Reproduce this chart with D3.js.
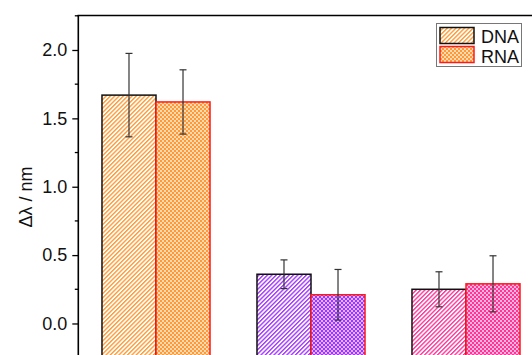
<!DOCTYPE html>
<html>
<head>
<meta charset="utf-8">
<script src="https://cdn.jsdelivr.net/npm/d3@7"></script>
<style>
  html, body { margin: 0; padding: 0; background: #fff; }
  svg { display: block; font-family: Arial, "Liberation Sans", sans-serif; }
</style>
</head>
<body>
<svg id="chart" width="532" height="355"></svg>
<script>
// Wavelength shift per sample, DNA vs RNA
const categories = ["S1", "S2", "S3"];
const seriesNames = ["DNA", "RNA"];
const dnaValues = [1.67, 0.36, 0.25];
const dnaErrors = [0.305, 0.105, 0.128];
const rnaValues = [1.62, 0.21, 0.29];
const rnaErrors = [0.235, 0.185, 0.205];
const groupColors = ["#ff9933", "#a033ff", "#ff3399"];
const yTicks = [0.0, 0.5, 1.0, 1.5, 2.0];
const yMinorTicks = [-0.25, 0.25, 0.75, 1.25, 1.75, 2.25];

const svg = d3.select("#chart");

const y = d3.scaleLinear().domain([-0.3, 2.25]).range([364.5, 15.8]);
const x = d3.scaleBand().domain(categories).range([78.5, 543.5])
  .paddingInner(0.303).paddingOuter(0.1515);
const xs = d3.scaleBand().domain(seriesNames).range([0, x.bandwidth()]);

// hatch (diagonal) and cross-hatch (dotted grid) patterns per colour
const defs = svg.append("defs");
groupColors.forEach((c, i) => {
  const h = defs.append("pattern")
    .attr("id", "hatch" + i).attr("patternUnits", "userSpaceOnUse")
    .attr("width", 3.05).attr("height", 3.05)
    .attr("patternTransform", "rotate(45)");
  h.append("rect").attr("width", 3.05).attr("height", 3.05).attr("fill", "#fff");
  h.append("rect").attr("x", 0).attr("y", 0).attr("width", 1.35).attr("height", 3.05).attr("fill", c);

  const x2 = defs.append("pattern")
    .attr("id", "cross" + i).attr("patternUnits", "userSpaceOnUse")
    .attr("width", 4).attr("height", 4);
  x2.append("rect").attr("width", 4).attr("height", 4).attr("fill", c);
  x2.append("rect").attr("x", 0.2).attr("y", 0.2).attr("width", 1.6).attr("height", 1.6).attr("fill", "#fff");
  x2.append("rect").attr("x", 2.2).attr("y", 2.2).attr("width", 1.6).attr("height", 1.6).attr("fill", "#fff");
});

const rows = categories.map((c, i) => ({
  cat: c, i,
  items: [
    { s: "DNA", v: dnaValues[i], e: dnaErrors[i] },
    { s: "RNA", v: rnaValues[i], e: rnaErrors[i] }
  ]
}));

const base = y(-0.3);
const g = svg.selectAll("g.grp").data(rows).join("g")
  .attr("class", "grp")
  .attr("transform", d => `translate(${x(d.cat)},0)`);

g.selectAll("rect.bar").data(d => d.items.map(it => ({ ...it, i: d.i }))).join("rect")
  .attr("class", "bar")
  .attr("x", d => xs(d.s))
  .attr("y", d => y(d.v))
  .attr("width", xs.bandwidth())
  .attr("height", d => base - y(d.v))
  .attr("fill", d => `url(#${d.s === "DNA" ? "hatch" : "cross"}${d.i})`)
  .attr("stroke", d => d.s === "DNA" ? "#111" : "#ff1a1a")
  .attr("stroke-width", 1.5);

// error bars
const eb = g.selectAll("g.err").data(d => d.items).join("g").attr("class", "err")
  .attr("stroke", "#333").attr("stroke-width", 1.2);
eb.append("line")
  .attr("x1", d => xs(d.s) + xs.bandwidth() / 2).attr("x2", d => xs(d.s) + xs.bandwidth() / 2)
  .attr("y1", d => y(d.v + d.e)).attr("y2", d => y(d.v - d.e));
eb.append("line")
  .attr("x1", d => xs(d.s) + xs.bandwidth() / 2 - 3.5).attr("x2", d => xs(d.s) + xs.bandwidth() / 2 + 3.5)
  .attr("y1", d => y(d.v + d.e)).attr("y2", d => y(d.v + d.e));
eb.append("line")
  .attr("x1", d => xs(d.s) + xs.bandwidth() / 2 - 3.5).attr("x2", d => xs(d.s) + xs.bandwidth() / 2 + 3.5)
  .attr("y1", d => y(d.v - d.e)).attr("y2", d => y(d.v - d.e));

// frame
svg.append("line").attr("x1", 77.5).attr("x2", 545).attr("y1", 15.5).attr("y2", 15.5)
  .attr("stroke", "#000").attr("stroke-width", 1.6);

// y axis
const yAxis = svg.append("g").attr("transform", "translate(78.3,0)")
  .call(d3.axisLeft(y).tickValues(yTicks).tickFormat(d3.format(".1f")).tickSize(6).tickPadding(5));
yAxis.select(".domain").remove();
yAxis.selectAll(".tick line").attr("stroke", "#000").attr("stroke-width", 1.3);
yAxis.selectAll(".tick text").attr("font-size", 18).attr("fill", "#111")
  .attr("font-family", "Arial, 'Liberation Sans', sans-serif");
svg.append("g").attr("transform", "translate(78.3,0)")
  .selectAll("line").data(yMinorTicks).join("line")
  .attr("x1", -3.5).attr("x2", 0).attr("y1", d => y(d)).attr("y2", d => y(d))
  .attr("stroke", "#000").attr("stroke-width", 1.3);
svg.append("line").attr("x1", 78.3).attr("x2", 78.3).attr("y1", 15).attr("y2", 360)
  .attr("stroke", "#000").attr("stroke-width", 1.6);

svg.append("text")
  .attr("transform", "translate(32,197) rotate(-90)")
  .attr("text-anchor", "middle")
  .attr("font-size", 18).attr("fill", "#111")
  .text("Δλ / nm");

// legend
const lg = svg.append("g");
lg.append("rect").attr("x", 436.5).attr("y", 23.5).attr("width", 85).attr("height", 43)
  .attr("fill", "#fff").attr("stroke", "#777").attr("stroke-width", 1);
seriesNames.forEach((s, k) => {
  lg.append("rect").attr("x", 440).attr("y", 27.5 + k * 19).attr("width", 34).attr("height", 16)
    .attr("fill", `url(#${k === 0 ? "hatch" : "cross"}0)`)
    .attr("stroke", k === 0 ? "#111" : "#ff1a1a").attr("stroke-width", 1.5);
  lg.append("text").attr("x", 481).attr("y", 43 + k * 19.5)
    .attr("font-size", 18).attr("fill", "#111").text(s);
});
</script>
</body>
</html>
